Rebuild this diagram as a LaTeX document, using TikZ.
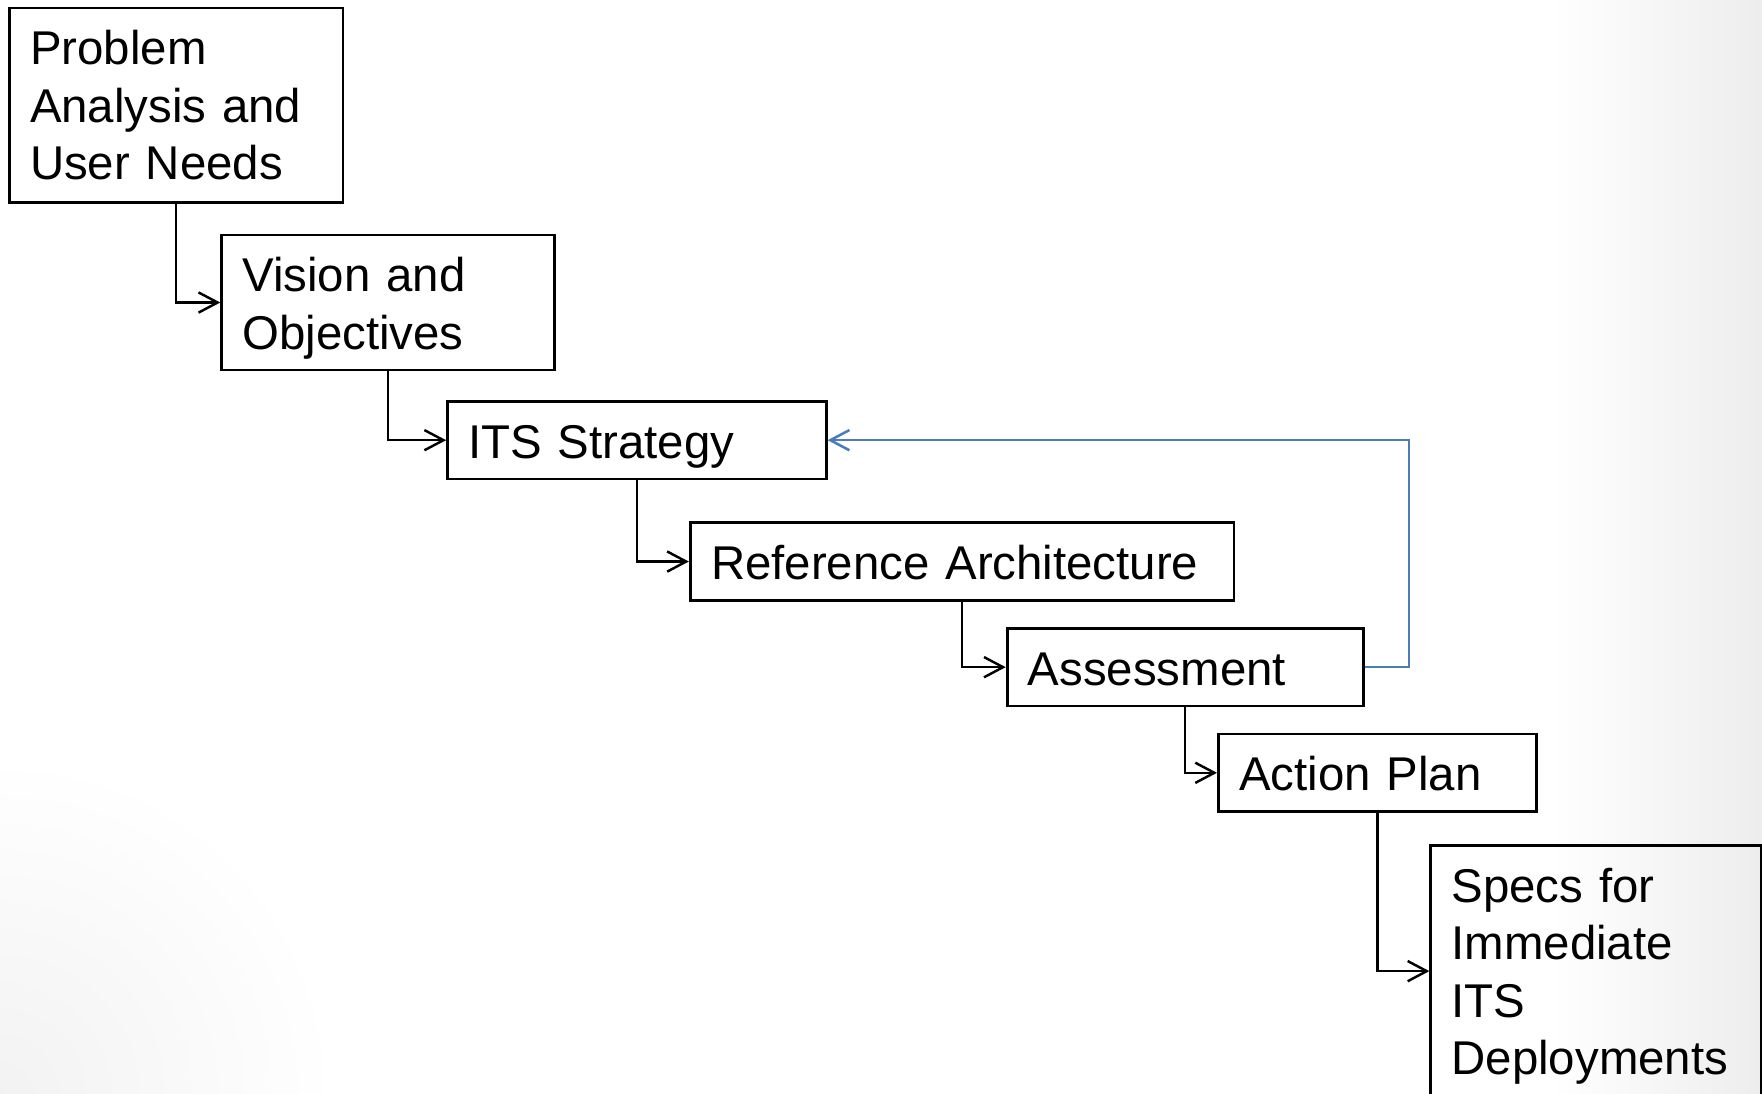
\documentclass[tikz,border=0pt]{standalone}
\usepackage{fontspec}
\setmainfont{Liberation Sans}
\usetikzlibrary{arrows.meta}
\definecolor{fbblue}{RGB}{74,126,187}
\begin{document}
\begin{tikzpicture}[x=0.1mm,y=-0.1mm,
  stage/.style={draw=black, line width=0.7pt, anchor=north west,
    inner ysep=0pt, inner xsep=1.85mm, align=left,
    font=\fontsize{12}{14.57}\selectfont, text height=5.05mm},
  link/.style={draw=black, line width=0.62pt,
    -{Straight Barb[length=1.7mm,width=1.8mm]}},
  backlink/.style={draw=fbblue, line width=0.65pt,
    -{Straight Barb[length=1.7mm,width=1.8mm]}}
]
\useasboundingbox (0,0) rectangle (1568,973);
\fill[white] (0,0) rectangle (1568,973);
\shade[left color=white, right color=black!7] (1380,0) rectangle (1568,973);
\begin{scope}
  \clip (0,0) rectangle (1568,973);
  \shade[inner color=black!5, outer color=white] (0,973) circle (300);
\end{scope}

\node[stage, text width=26.0mm, text depth=12.25mm] (b1) at (7,6)
  {Problem\\Analysis and\\User Needs};
\node[stage, text width=25.9mm, text depth=6.95mm] (b2) at (196,208)
  {Vision and\\Objectives};
\node[stage, text width=30.0mm, text depth=1.85mm] (b3) at (397,356)
  {ITS Strategy};
\node[stage, text width=44.7mm, text depth=1.85mm] (b4) at (613,464)
  {Reference Architecture};
\node[stage, text width=28.0mm, text depth=1.85mm] (b5) at (895,558)
  {Assessment};
\node[stage, text width=24.6mm, text depth=1.85mm] (b6) at (1083,652)
  {Action Plan};
\node[stage, text width=25.75mm, text depth=17.35mm] (b7) at (1272,751)
  {Specs for\\Immediate\\ITS\\Deployments};

\draw[link] (b1.south) |- (b2.west);
\draw[link] (b2.south) |- (b3.west);
\draw[link] (b3.south) |- (b4.west);
\draw[link] (b4.south) |- (b5.west);
\draw[link] (b5.south) |- (b6.west);
\draw[link] (b6.south) |- (b7.west);

\coordinate (fbk) at (1254,0);
\draw[backlink] (b5.east) -| (fbk |- b3.east) -- (b3.east);
\end{tikzpicture}
\end{document}
